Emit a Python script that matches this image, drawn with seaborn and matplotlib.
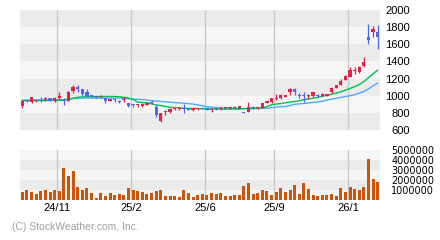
import numpy as np
import pandas as pd
import matplotlib
matplotlib.use("Agg")
import matplotlib.pyplot as plt
import seaborn as sns

# ---------------- data (weekly candles) ----------------
opens = [884, 946, 927, 938, 950, 958, 969, 934, 969, 950,
         942, 1055, 1098, 1074, 1043, 1012, 997, 985, 969, 942,
         958, 942, 946, 915, 896, 888, 884, 892, 930, 872,
         705, 805, 806, 841, 845, 861, 853, 838, 840, 850,
         845, 830, 850, 845, 855, 855, 858, 852, 810, 814,
         872, 858, 860, 915, 925, 965, 975, 990, 1040, 1078,
         1012, 1008, 992, 992, 1008, 1000, 1000, 1039, 1090, 1125,
         1185, 1222, 1285, 1280, 1345, 1690, 1743, 1745]
highs = [950, 950, 989, 954, 981, 981, 972, 981, 1039, 969,
         1051, 1121, 1129, 1082, 1074, 1012, 1000, 1012, 969, 958,
         969, 950, 981, 915, 903, 903, 911, 925, 950, 892,
         800, 835, 855, 855, 861, 903, 858, 855, 855, 855,
         848, 855, 858, 870, 870, 872, 875, 880, 815, 930,
         880, 872, 915, 942, 972, 1016, 1020, 1012, 1086, 1090,
         1028, 1039, 1020, 1045, 1020, 1030, 1025, 1098, 1125, 1195,
         1240, 1340, 1330, 1345, 1446, 1837, 1815, 1825]
lows = [860, 930, 918, 926, 930, 942, 938, 926, 961, 892,
        934, 1036, 1047, 997, 989, 981, 969, 969, 919, 934,
        927, 911, 927, 864, 864, 864, 872, 888, 900, 748,
        690, 775, 800, 835, 830, 798, 830, 825, 835, 840,
        835, 814, 838, 835, 850, 845, 850, 848, 795, 806,
        845, 850, 855, 910, 915, 955, 965, 985, 1010, 1008,
        969, 925, 965, 985, 990, 995, 995, 1030, 1085, 1120,
        1180, 1215, 1250, 1270, 1330, 1607, 1685, 1541]
closes = [938, 934, 981, 950, 934, 966, 938, 977, 1000, 938,
          1043, 1105, 1078, 1020, 997, 989, 977, 997, 942, 954,
          946, 927, 958, 880, 888, 896, 907, 919, 915, 775,
          795, 818, 849, 853, 857, 845, 833, 848, 850, 842,
          838, 845, 842, 862, 865, 862, 870, 875, 800, 868,
          860, 868, 911, 938, 969, 972, 1008, 1008, 1074, 1047,
          1000, 992, 1000, 1039, 1000, 1024, 1020, 1090, 1125, 1168,
          1232, 1300, 1295, 1330, 1397, 1654, 1775, 1689]
ma_short = [942, 942, 943, 943, 944, 944, 945, 945, 946, 947,
            958, 972, 982, 986, 988, 990, 990, 991, 991, 991,
            990, 988, 982, 972, 958, 925, 922, 918, 905, 892,
            885, 875, 866, 863, 860, 853, 852, 851, 850, 849,
            847, 845, 845, 845, 845, 845, 846, 847, 848, 850,
            852, 855, 858, 872, 895, 903, 908, 918, 926, 932,
            940, 955, 962, 970, 982, 992, 1005, 1018, 1030, 1045,
            1065, 1085, 1105, 1130, 1165, 1210, 1255, 1300]
ma_long = [950, 950, 950, 950, 951, 951, 952, 952, 954, 956,
           960, 966, 970, 972, 973, 973, 973, 973, 973, 973,
           973, 973, 970, 966, 962, 958, 955, 950, 942, 938,
           933, 928, 924, 920, 917, 913, 908, 902, 893, 882,
           872, 866, 862, 858, 855, 852, 850, 850, 850, 850,
           850, 851, 852, 853, 860, 868, 872, 875, 885, 900,
           905, 910, 915, 922, 928, 935, 950, 960, 970, 980,
           990, 1000, 1012, 1030, 1050, 1080, 1115, 1148]
volume_m = [0.8, 1.03, 0.8, 0.6, 0.9, 1.0, 0.8, 1.0, 0.9, 3.2,
            2.4, 2.93, 1.3, 1.0, 1.2, 0.7, 0.23, 0.7, 0.4, 0.7,
            0.5, 0.6, 0.5, 1.2, 1.0, 0.9, 0.8, 0.6, 0.7, 0.9,
            1.0, 0.4, 0.4, 0.4, 0.3, 1.0, 0.7, 0.3, 0.5, 0.6,
            0.5, 0.7, 0.6, 0.7, 0.4, 0.4, 0.5, 0.5, 1.4, 1.7,
            0.6, 0.7, 1.0, 0.9, 0.5, 0.8, 1.2, 0.8, 1.0, 1.5,
            0.6, 1.7, 1.1, 0.5, 0.4, 0.5, 0.5, 0.6, 0.4, 1.2,
            0.8, 1.3, 1.1, 1.0, 1.3, 4.1, 2.1, 1.8]
tick_labels = ['24/11', '25/2', '25/6', '25/9', '26/1']
tick_bars = [8, 24, 40, 55, 71]
price_ticks = [600, 800, 1000, 1200, 1400, 1600, 1800, 2000]
vol_ticks = [1000000, 2000000, 3000000, 4000000, 5000000]

# ---------------- style ----------------
sns.set_theme(style="white")
plt.rcParams['font.family'] = ['Liberation Sans', 'DejaVu Sans']

RED = '#dc2448'
BLUE = '#5068f0'
GREEN = '#00c050'
LBLUE = '#50a8ff'
VOLC = '#c8560c'
DARK = '#ebebeb'
LIGHT = '#f6f6f6'
GRID = '#c8c8c8'

W, H = 440, 240
fig = plt.figure(figsize=(W / 100, H / 100), dpi=100)
fig.patch.set_facecolor('white')
ax = fig.add_axes([20 / W, 1 - 130 / H, 360 / W, 120 / H])
axv = fig.add_axes([20 / W, 1 - 200 / H, 360 / W, 50 / H])

n = len(closes)
idx = np.arange(n)
df = pd.DataFrame({'i': idx, 'open': opens, 'high': highs, 'low': lows,
                   'close': closes, 'ma_s': ma_short, 'ma_l': ma_long,
                   'vol': np.array(volume_m) * 1e6})
grid_x = [b - 0.4 for b in tick_bars]
px = 1 / 100 * 72  # one pixel in points

# ---------- price panel ----------
for k in range(len(price_ticks) - 1):
    ax.axhspan(price_ticks[k], price_ticks[k + 1],
               color=DARK if k % 2 == 0 else LIGHT, lw=0, zorder=0)
for gx in grid_x:
    ax.axvline(gx, color=GRID, lw=1.3 * px, zorder=1)

sns.lineplot(data=df, x='i', y='ma_l', color=LBLUE, lw=1.0, ax=ax, zorder=3)
sns.lineplot(data=df, x='i', y='ma_s', color=GREEN, lw=1.0, ax=ax, zorder=3)

up = df['close'] >= df['open']
cols = np.where(up, RED, BLUE)
min_h = 1400 / 120 * 1.2
body_lo = np.minimum(df['open'], df['close'])
body_h = np.maximum(np.abs(df['close'] - df['open']), min_h)
ax.vlines(df['i'], df['low'], df['high'], colors=cols, lw=1.3 * px, zorder=4)
ax.bar(df['i'], body_h, bottom=body_lo, width=0.7, color=cols, lw=0, zorder=5)

ax.set_xlim(-0.5, n - 0.5)
ax.set_ylim(600, 2000)
ax.set_xticks([])
ax.set_yticks(price_ticks)
ax.set_yticklabels([str(t) for t in price_ticks])
ax.yaxis.tick_right()
ax.tick_params(axis='y', length=0, pad=30 * px, labelsize=8, colors='black')
for lab in ax.get_yticklabels():
    lab.set_ha('right')
ax.set_xlabel('')
ax.set_ylabel('')
for s in ax.spines.values():
    s.set_visible(False)

# ---------- volume panel ----------
for k in range(5):
    axv.axhspan(k * 1e6, (k + 1) * 1e6,
                color=LIGHT if k % 2 == 0 else DARK, lw=0, zorder=0)
for gx in grid_x:
    axv.axvline(gx, color=GRID, lw=1.3 * px, zorder=1)
sns.barplot(data=df, x='i', y='vol', native_scale=True, color=VOLC,
            saturation=1, width=0.65, errorbar=None, lw=0, ax=axv, zorder=3)
axv.set_xlim(-0.5, n - 0.5)
axv.set_ylim(0, 5e6)
axv.set_yticks(vol_ticks)
axv.set_yticklabels([str(t) for t in vol_ticks])
axv.yaxis.tick_right()
axv.tick_params(axis='y', length=0, pad=54 * px, labelsize=7, colors='black')
for lab in axv.get_yticklabels():
    lab.set_ha('right')
    lab.set_family(['DejaVu Sans'])
axv.set_xticks(grid_x)
axv.set_xticklabels(tick_labels)
axv.tick_params(axis='x', length=0, pad=2, labelsize=8, colors='black')
axv.set_xlabel('')
axv.set_ylabel('')
for s in axv.spines.values():
    s.set_visible(False)

fig.text(12 / W, 1 - 227 / H, '(C) StockWeather.com, Inc.', color='#a0a0a0',
         fontsize=7.5, va='center', ha='left')

fig.savefig('out.png', dpi=100)
